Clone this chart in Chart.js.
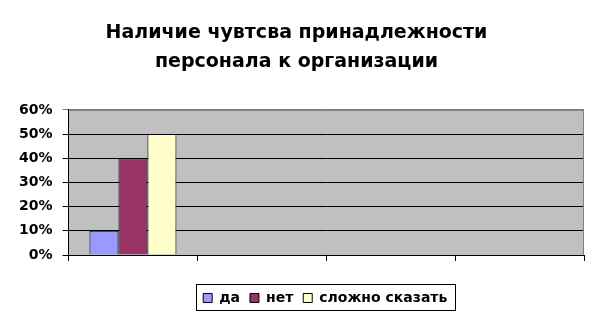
<!DOCTYPE html>
<html>
<head>
<meta charset="utf-8">
<script src="https://cdn.jsdelivr.net/npm/chart.js@4/dist/chart.umd.min.js"></script>
<style>
  body { margin: 0; background: #fff; }
  #wrap { width: 598px; height: 321px; }
</style>
</head>
<body>
<div id="wrap"><canvas id="chart"></canvas></div>
<script>
const titleLines = ["Наличие чувтсва принадлежности", "персонала к организации"];
const categories = ["", "", "", ""];
const seriesNames = ["да", "нет", "сложно сказать"];
const daValues = [10, null, null, null];
const netValues = [40, null, null, null];
const slozhnoValues = [50, null, null, null];
const yTicks = [0, 10, 20, 30, 40, 50, 60];

// серый фон области построения
const plotBg = {
    id: "plotBg",
    beforeDraw(chart) {
        const { ctx, chartArea: a } = chart;
        ctx.save();
        ctx.fillStyle = "#c0c0c0";
        ctx.fillRect(a.left, a.top, a.right - a.left, a.bottom - a.top);
        ctx.restore();
    },
    afterDraw(chart) {
        // серая рамка сверху и справа
        const { ctx, chartArea: a } = chart;
        ctx.save();
        ctx.strokeStyle = "#808080";
        ctx.lineWidth = 1;
        ctx.beginPath();
        ctx.moveTo(Math.round(a.left) + 0.5, Math.round(a.top) + 0.5);
        ctx.lineTo(Math.round(a.right) - 0.5, Math.round(a.top) + 0.5);
        ctx.lineTo(Math.round(a.right) - 0.5, Math.round(a.bottom));
        ctx.stroke();
        ctx.restore();
    }
};

// легенда центрируется по области построения, с рамкой
const legendBox = {
    id: "legendBox",
    afterLayout(chart) {
        const a = chart.chartArea;
        chart.legend.left = a.left - 1;
        chart.legend.right = a.right - 1;
    },
    afterDraw(chart) {
        const boxes = chart.legend.legendHitBoxes;
        if (!boxes || !boxes.length) return;
        const left = Math.min(...boxes.map(b => b.left));
        const right = Math.max(...boxes.map(b => b.left + b.width));
        const top = Math.min(...boxes.map(b => b.top));
        const bottom = Math.max(...boxes.map(b => b.top + b.height));
        const ctx = chart.ctx;
        ctx.save();
        ctx.strokeStyle = "#000";
        ctx.lineWidth = 1;
        ctx.strokeRect(Math.round(left) - 6.5, Math.round(top) - 6.5, Math.round(right - left) + 15, Math.round(bottom - top) + 12);
        ctx.restore();
    }
};

new Chart(document.getElementById("chart"), {
    type: "bar",
    data: {
        labels: categories,
        datasets: [
            { label: seriesNames[0], data: daValues, backgroundColor: "#9999ff" },
            { label: seriesNames[1], data: netValues, backgroundColor: "#993366" },
            { label: seriesNames[2], data: slozhnoValues, backgroundColor: "#ffffcc" }
        ]
    },
    options: {
        responsive: true,
        maintainAspectRatio: false,
        animation: false,
        datasets: {
            bar: {
                borderColor: "#000",
                borderWidth: 1,
                barPercentage: 1,
                categoryPercentage: 0.675
            }
        },
        layout: { padding: { left: 9, right: 14, top: 0, bottom: 6 } },
        scales: {
            x: {
                grid: { offset: true, drawOnChartArea: false, color: "#000", tickLength: 6 },
                border: { color: "#000" },
                ticks: { display: false },
                afterFit(scale) { scale.height += 20; }
            },
            y: {
                min: 0,
                max: 60,
                afterBuildTicks(scale) { scale.ticks = yTicks.map(v => ({ value: v })); },
                grid: {
                    color: c => (c.tick && c.tick.value === 60 ? "#808080" : "#000"),
                    tickLength: 6
                },
                border: { color: "#000" },
                ticks: {
                    color: "#000",
                    padding: 10,
                    font: { family: "DejaVu Sans", size: 14, weight: "bold" },
                    callback: v => v + "%"
                }
            }
        },
        plugins: {
            title: {
                display: true,
                text: titleLines,
                color: "#000",
                font: { family: "DejaVu Sans", size: 19, weight: "bold", lineHeight: 1.55 },
                padding: { top: 18, bottom: 33 }
            },
            legend: {
                position: "bottom",
                labels: {
                    color: "#000",
                    boxWidth: 9,
                    boxHeight: 9,
                    padding: 10,
                    font: { family: "DejaVu Sans", size: 14, weight: "bold" }
                }
            },
            tooltip: { enabled: false }
        }
    },
    plugins: [plotBg, legendBox]
});
</script>
</body>
</html>
